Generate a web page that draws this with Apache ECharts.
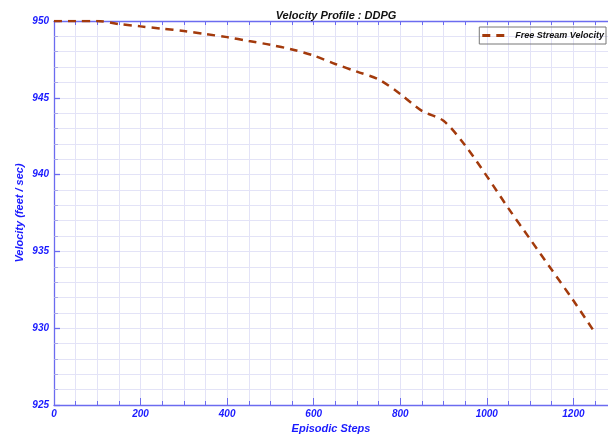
<!DOCTYPE html>
<html><head><meta charset="utf-8">
<script src="https://cdn.jsdelivr.net/npm/echarts@6/dist/echarts.min.js"></script>
<style>html,body{margin:0;padding:0;background:#fff}#c{width:608px;height:436px}</style>
</head><body><div id="c"></div>
<script>
const steps = [0,50,100,150,200,250,300,350,400,450,500,550,600,650,700,750,800,850,900,950,1000,1050,1100,1150,1200,1250];
const velocity = [950,950,950,949.8,949.65,949.5,949.35,949.15,948.95,948.7,948.45,948.15,947.75,947.2,946.7,946.2,945.25,944.15,943.5,941.9,939.9,937.8,935.8,933.8,931.8,929.7];
const xLabels = [0,200,400,600,800,1000,1200];
const yLabels = [925,930,935,940,945,950];
const seriesName = 'Free Stream Velocity';

const blue = '#1a1aff';
const axisBlue = '#6b6bf0';
const gridCol = '#e3e3f7';
const font = 'Liberation Sans, Arial, sans-serif';
const X0 = 0, X1 = 1280, Y0 = 925, Y1 = 950;
const gridPos = {left: 54, right: 0, top: 21, bottom: 31, containLabel: false, outerBoundsMode: 'none'};

const chart = echarts.init(document.getElementById('c'));
const lblStyle = {color: blue, fontFamily: font, fontWeight: 'bold', fontStyle: 'italic', fontSize: 10};
chart.setOption({
  animation: false,
  title: {text: 'Velocity Profile : DDPG', left: 331, textAlign: 'center', top: 5,
    textStyle: {color: '#111', fontFamily: font, fontWeight: 'bold', fontStyle: 'italic', fontSize: 11}},
  legend: {data: [seriesName], right: 2, top: 27, orient: 'horizontal',
    icon: 'path://M0,0h8v3h-8z M14,0h8v3h-8z',
    borderColor: '#777', borderWidth: 1, padding: [4, 2, 4, 3], itemWidth: 22, itemHeight: 3, itemGap: 4,
    textStyle: {color: '#111', fontFamily: font, fontWeight: 'bold', fontStyle: 'italic', fontSize: 9, padding: [0, 0, 0, 6]}},
  grid: gridPos,
  xAxis: [
    {type: 'value', min: X0, max: X1, interval: 50, position: 'bottom',
      name: 'Episodic Steps', nameLocation: 'middle', nameGap: 18,
      nameTextStyle: {color: blue, fontFamily: font, fontWeight: 'bold', fontStyle: 'italic', fontSize: 11},
      axisLine: {show: true, lineStyle: {color: axisBlue, width: 1.3}},
      axisTick: {show: true, inside: true, length: 4, lineStyle: {color: axisBlue}},
      splitLine: {show: true, lineStyle: {color: gridCol, width: 1}},
      axisLabel: {...lblStyle, margin: 4, showMaxLabel: false,
        formatter: v => xLabels.includes(v) ? String(v) : ''}},
    {type: 'value', min: X0, max: X1, interval: 200, position: 'bottom', gridIndex: 0,
      axisLine: {show: false}, axisTick: {show: true, inside: true, length: 7, lineStyle: {color: axisBlue}},
      splitLine: {show: false}, axisLabel: {show: false}},
    {type: 'value', min: X0, max: X1, interval: 50, position: 'top',
      axisLine: {show: true, lineStyle: {color: axisBlue, width: 1.3}},
      axisTick: {show: true, inside: true, length: 4, lineStyle: {color: axisBlue}},
      splitLine: {show: false}, axisLabel: {show: false}}
  ],
  yAxis: [
    {type: 'value', min: Y0, max: Y1, interval: 1, position: 'left',
      name: 'Velocity (feet / sec)', nameLocation: 'middle', nameGap: 29, nameRotate: 90, nameMoveOverlap: false,
      nameTextStyle: {color: blue, fontFamily: font, fontWeight: 'bold', fontStyle: 'italic', fontSize: 11},
      axisLine: {show: true, lineStyle: {color: axisBlue, width: 1.3}},
      axisTick: {show: true, inside: true, length: 4, lineStyle: {color: '#a9a9e8'}},
      splitLine: {show: true, lineStyle: {color: gridCol, width: 1}},
      axisLabel: {...lblStyle, margin: 5, formatter: v => yLabels.includes(v) ? String(v) : ''}},
    {type: 'value', min: Y0, max: Y1, interval: 5, position: 'left',
      axisLine: {show: false}, axisTick: {show: true, inside: true, length: 6, lineStyle: {color: axisBlue, width: 1.3}},
      splitLine: {show: false}, axisLabel: {show: false}}
  ],
  series: [{
    name: seriesName, type: 'line', xAxisIndex: 0, yAxisIndex: 0,
    data: steps.map((s, i) => [s, velocity[i]]),
    showSymbol: false, symbol: 'none', smooth: 0.3,
    lineStyle: {color: '#a33a0c', width: 2.5, type: [8, 6]},
    itemStyle: {color: '#a33a0c'}
  }]
});
</script></body></html>
